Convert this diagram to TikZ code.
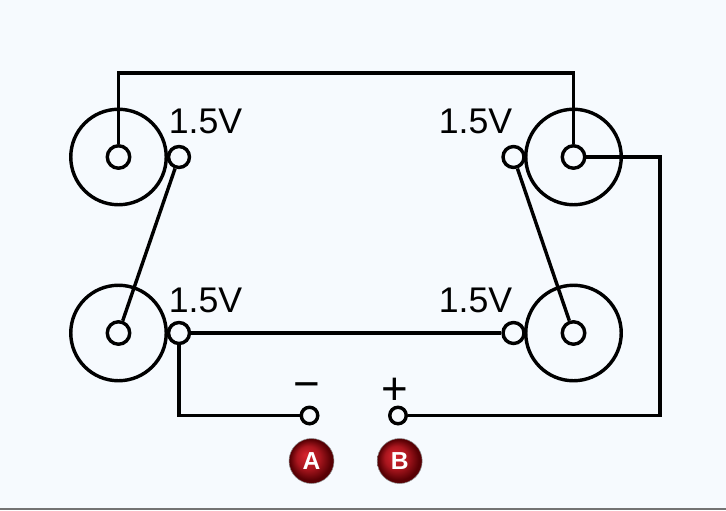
\documentclass[tikz,border=0pt]{standalone}
\usepackage{fontspec}
\setmainfont{Liberation Sans}
\definecolor{paper}{RGB}{246,250,254}
\definecolor{ballhi}{RGB}{214,36,46}
\definecolor{ballmid}{RGB}{170,22,30}
\definecolor{ballend}{RGB}{88,0,4}
\pgfdeclareradialshading{redball}{\pgfpoint{-0.25cm}{0.25cm}}{
	color(0cm)=(ballhi);
	color(0.45cm)=(ballmid);
	color(0.8cm)=(ballend);
	color(1cm)=(ballend)}
\tikzset{
	wire/.style={line width=1.95pt, line join=miter},
	cellbody/.style={circle, draw, wire, inner sep=0pt, minimum size=1.91cm},
	cellpin/.style={circle, draw, wire, inner sep=0pt, minimum size=0.45cm},
	lug/.style={circle, draw, wire, inner sep=0pt, minimum size=0.42cm},
	outlet/.style={circle, draw, wire, inner sep=0pt, minimum size=0.33cm},
	volt/.style={anchor=base, inner sep=0pt, font=\fontsize{20.3}{21}\selectfont},
	sign/.style={inner sep=0pt, font=\fontsize{26}{27}\selectfont},
	probe/.style={circle, shading=redball, draw=black!45, line width=0.3pt, text=white, inner sep=0pt, minimum size=0.9cm, font=\bfseries\fontsize{14}{14}\selectfont}
}
\begin{document}
\begin{tikzpicture}[x=0.02cm,y=-0.02cm]
	\useasboundingbox (0,0) rectangle (726,510);
	\fill[paper] (0,0) rectangle (726,510);
	\fill[black!55] (0,508) rectangle (726,510);
	
	\node[cellbody] (cellA) at (118.5,157) {};
	\node[cellbody] (cellB) at (573.5,157) {};
	\node[cellbody] (cellC) at (118.5,333) {};
	\node[cellbody] (cellD) at (573.5,333) {};
	\node[cellpin] (pinA) at (118.5,157) {};
	\node[cellpin] (pinB) at (573.5,157) {};
	\node[cellpin] (pinC) at (118.5,333) {};
	\node[cellpin] (pinD) at (573.5,333) {};
	\node[lug] (lugA) at (179,157) {};
	\node[lug] (lugB) at (513.5,157) {};
	\node[lug] (lugC) at (179,333) {};
	\node[lug] (lugD) at (513.5,333) {};
	\node[outlet] (outA) at (309.5,415.5) {};
	\node[outlet] (outB) at (398,415.5) {};
	
	\coordinate (topA) at (118.5,73);
	\coordinate (topB) at (573.5,73);
	\coordinate (sideB) at (660,157);
	\coordinate (sideD) at (660,415.5);
	\coordinate (lowC) at (179,415.5);
	\draw[wire] (pinA) -- (topA) -- (topB) -- (pinB);
	\draw[wire] (pinB) -- (sideB) -- (sideD) -- (outB);
	\draw[wire] (lugC) -- (lowC) -- (outA);
	\draw[wire] (lugC) -- (lugD);
	\draw[wire] (lugA) -- (pinC);
	\draw[wire] (lugB) -- (pinD);
	
	\node[volt] (voltA) at (205.5,133.5) {1.5V};
	\node[volt] (voltB) at (475.5,133.5) {1.5V};
	\node[volt] (voltC) at (205.5,312.5) {1.5V};
	\node[volt] (voltD) at (475.5,312.5) {1.5V};
	\node[sign] (minus) at (306.5,391.5) {−};
	\node[sign] (plus) at (394.5,391) {+};
	\node[probe] (probeA) at (311.5,461) {A};
	\node[probe] (probeB) at (399.7,461) {B};
\end{tikzpicture}
\end{document}
